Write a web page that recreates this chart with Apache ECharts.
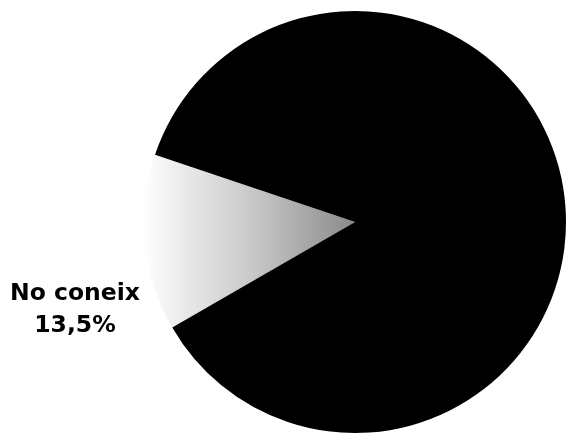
<!DOCTYPE html>
<html>
<head>
<meta charset="utf-8">
<script src="https://cdn.jsdelivr.net/npm/echarts@6/dist/echarts.min.js"></script>
<style>
html,body{margin:0;padding:0;background:#fff;}
#chart{width:569px;height:436px;}
</style>
</head>
<body>
<div id="chart"></div>
<script>
const categories = ['No coneix', 'Coneix'];
const values = [13.5, 86.5];
const labelTexts = ['No coneix\n13,5%', ''];

const chart = echarts.init(document.getElementById('chart'));
const lightFill = {
  type: 'linear', x: 1, y: 0, x2: 0, y2: 0,
  colorStops: [
    { offset: 0, color: '#8a8a8a' },
    { offset: 0.45, color: '#c4c4c4' },
    { offset: 1, color: '#fefefe' }
  ]
};
chart.setOption({
  backgroundColor: '#ffffff',
  animation: false,
  series: [{
    type: 'pie',
    center: [355, 222],
    radius: [0, 211],
    startAngle: 210,
    clockwise: true,
    silent: true,
    data: categories.map((c, i) => ({
      name: c,
      value: values[i],
      itemStyle: { color: i === 0 ? lightFill : '#000000', borderWidth: 0 },
      label: { show: i === 0 }
    })),
    label: {
      position: 'outside',
      formatter: p => labelTexts[p.dataIndex],
      fontFamily: 'DejaVu Sans',
      fontWeight: 'bold',
      fontSize: 23.5,
      lineHeight: 32,
      color: '#000',
      align: 'center',
      overflow: 'none',
      width: 200
    },
    labelLine: { show: false },
    labelLayout: function (params) {
      if (params.dataIndex === 0) {
        return { x: 75, y: 310, align: 'center', verticalAlign: 'middle' };
      }
      return {};
    }
  }]
});
</script>
</body>
</html>
